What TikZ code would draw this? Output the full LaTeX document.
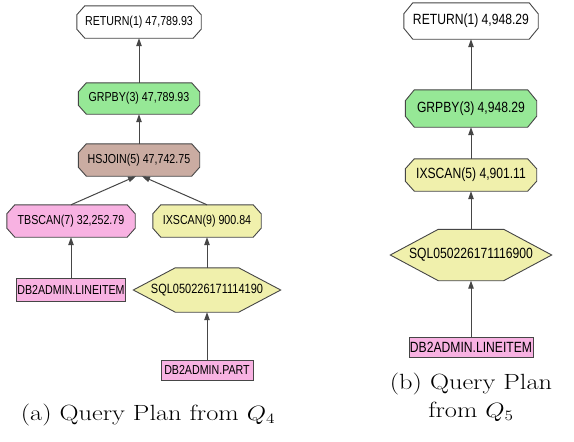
\documentclass[tikz,border=0pt]{standalone}
\usepackage{fontspec}
\usepackage{graphicx}
\usetikzlibrary{arrows.meta,backgrounds,calc}
\newfontfamily\planfont{Liberation Sans}

\definecolor{edgegray}{RGB}{70,70,70}
\definecolor{grpfill}{RGB}{150,232,150}
\definecolor{joinfill}{RGB}{202,172,162}
\definecolor{tabfill}{RGB}{248,178,226}
\definecolor{idxfill}{RGB}{240,240,172}

% operator label: narrow sans text at a given size
\newcommand\optext[2]{\scalebox{0.82}[1]{\fontsize{#1}{#1}\selectfont\planfont #2}}
% caption text: serif, slightly widened
\newcommand\captext[1]{\scalebox{1.2}[1]{\fontsize{22}{26}\selectfont #1}}

\tikzset{
  holder/.style={rectangle, inner sep=0pt},
  tblbox/.style={rectangle, draw=edgegray, line width=0.9pt, fill=tabfill, inner sep=0pt},
  outline/.style={draw=edgegray, line width=0.9pt},
  flow/.style={draw=edgegray, line width=1pt, -{Triangle[length=8pt,width=5.5pt]}},
}

\begin{document}
\begin{tikzpicture}[x=1pt,y=-1pt]
\begin{scope}[on background layer]
  \fill[white] (0,0) rectangle (574,442);
\end{scope}
\useasboundingbox (0,0) rectangle (574,442);

% ---------- plan for Q4 ----------
\node[holder, minimum width=124pt, minimum height=32pt] (ret1) at (139,22) {\optext{13}{RETURN(1) 47,789.93}};
\node[holder, minimum width=121pt, minimum height=31pt] (grp1) at (139,98.5) {\optext{13}{GRPBY(3) 47,789.93}};
\node[holder, minimum width=121pt, minimum height=32pt] (hsj) at (139,160) {\optext{13}{HSJOIN(5) 47,742.75}};
\node[holder, minimum width=128pt, minimum height=32pt] (tbs) at (71,221) {\optext{13}{TBSCAN(7) 32,252.79}};
\node[holder, minimum width=108pt, minimum height=32pt] (ixs1) at (207,221) {\optext{13}{IXSCAN(9) 900.84}};
\node[tblbox, minimum width=109pt, minimum height=23pt] (li1) at (71,289.5) {\optext{13}{DB2ADMIN.LINEITEM}};
\node[holder, minimum width=147pt, minimum height=44pt] (sql1) at (207,290) {\optext{13.4}{SQL050226171114190}};
\node[tblbox, minimum width=92pt, minimum height=20pt] (part) at (207,370) {\optext{13}{DB2ADMIN.PART}};

% ---------- plan for Q5 ----------
\node[holder, minimum width=134pt, minimum height=36pt] (ret2) at (471,21) {\optext{14.8}{RETURN(1) 4,948.29}};
\node[holder, minimum width=131pt, minimum height=37pt] (grp2) at (471,108.5) {\optext{14.8}{GRPBY(3) 4,948.29}};
\node[holder, minimum width=131pt, minimum height=32pt] (ixs2) at (471,175) {\optext{14.8}{IXSCAN(5) 4,901.11}};
\node[holder, minimum width=161pt, minimum height=51pt] (sql2) at (471,255) {\optext{14.8}{SQL050226171116900}};
\node[tblbox, minimum width=124pt, minimum height=20pt] (li2) at (471,347) {\optext{14.8}{DB2ADMIN.LINEITEM}};

% operator octagons and index hexagons, drawn behind their labels
\begin{scope}[on background layer]
  \foreach \n/\c/\v/\col in {ret1/8/9/white, grp1/8/9/grpfill, hsj/8/9/joinfill,
      tbs/8/9/tabfill, ixs1/8/9/idxfill, ret2/9/11/white, grp2/9/11/grpfill,
      ixs2/9/10/idxfill}{
    \filldraw[outline, fill=\col]
      ($(\n.north west)+(\c,0)$) -- ($(\n.north east)+(-\c,0)$)
      -- ($(\n.north east)+(0,\v)$) -- ($(\n.south east)+(0,-\v)$)
      -- ($(\n.south east)+(-\c,0)$) -- ($(\n.south west)+(\c,0)$)
      -- ($(\n.south west)+(0,-\v)$) -- ($(\n.north west)+(0,\v)$) -- cycle;
  }
  \foreach \h/\s in {sql1/42, sql2/48}{
    \filldraw[outline, fill=idxfill]
      (\h.west) -- ($(\h.north west)+(\s,0)$) -- ($(\h.north east)+(-\s,0)$)
      -- (\h.east) -- ($(\h.south east)+(-\s,0)$) -- ($(\h.south west)+(\s,0)$) -- cycle;
  }
\end{scope}

% data flow, child to parent
\draw[flow] (grp1) -- (ret1);
\draw[flow] (hsj) -- (grp1);
\draw[flow] (tbs.north) -- ($(hsj.south)+(-3,0)$);
\draw[flow] (ixs1.north) -- ($(hsj.south)+(3,0)$);
\draw[flow] (li1) -- (tbs);
\draw[flow] (sql1) -- (ixs1);
\draw[flow] (part) -- (sql1);

\draw[flow] (grp2) -- (ret2);
\draw[flow] (ixs2) -- (grp2);
\draw[flow] (sql2) -- (ixs2);
\draw[flow] (li2) -- (sql2);

% captions
\node[anchor=base, inner sep=0pt] (capa) at (148,420) {\captext{(a) Query Plan from $Q_4$}};
\node[anchor=base, inner sep=0pt] (capb1) at (471,389) {\captext{(b) Query Plan}};
\node[anchor=base, inner sep=0pt] (capb2) at (471,417) {\captext{from $Q_5$}};
\end{tikzpicture}
\end{document}
